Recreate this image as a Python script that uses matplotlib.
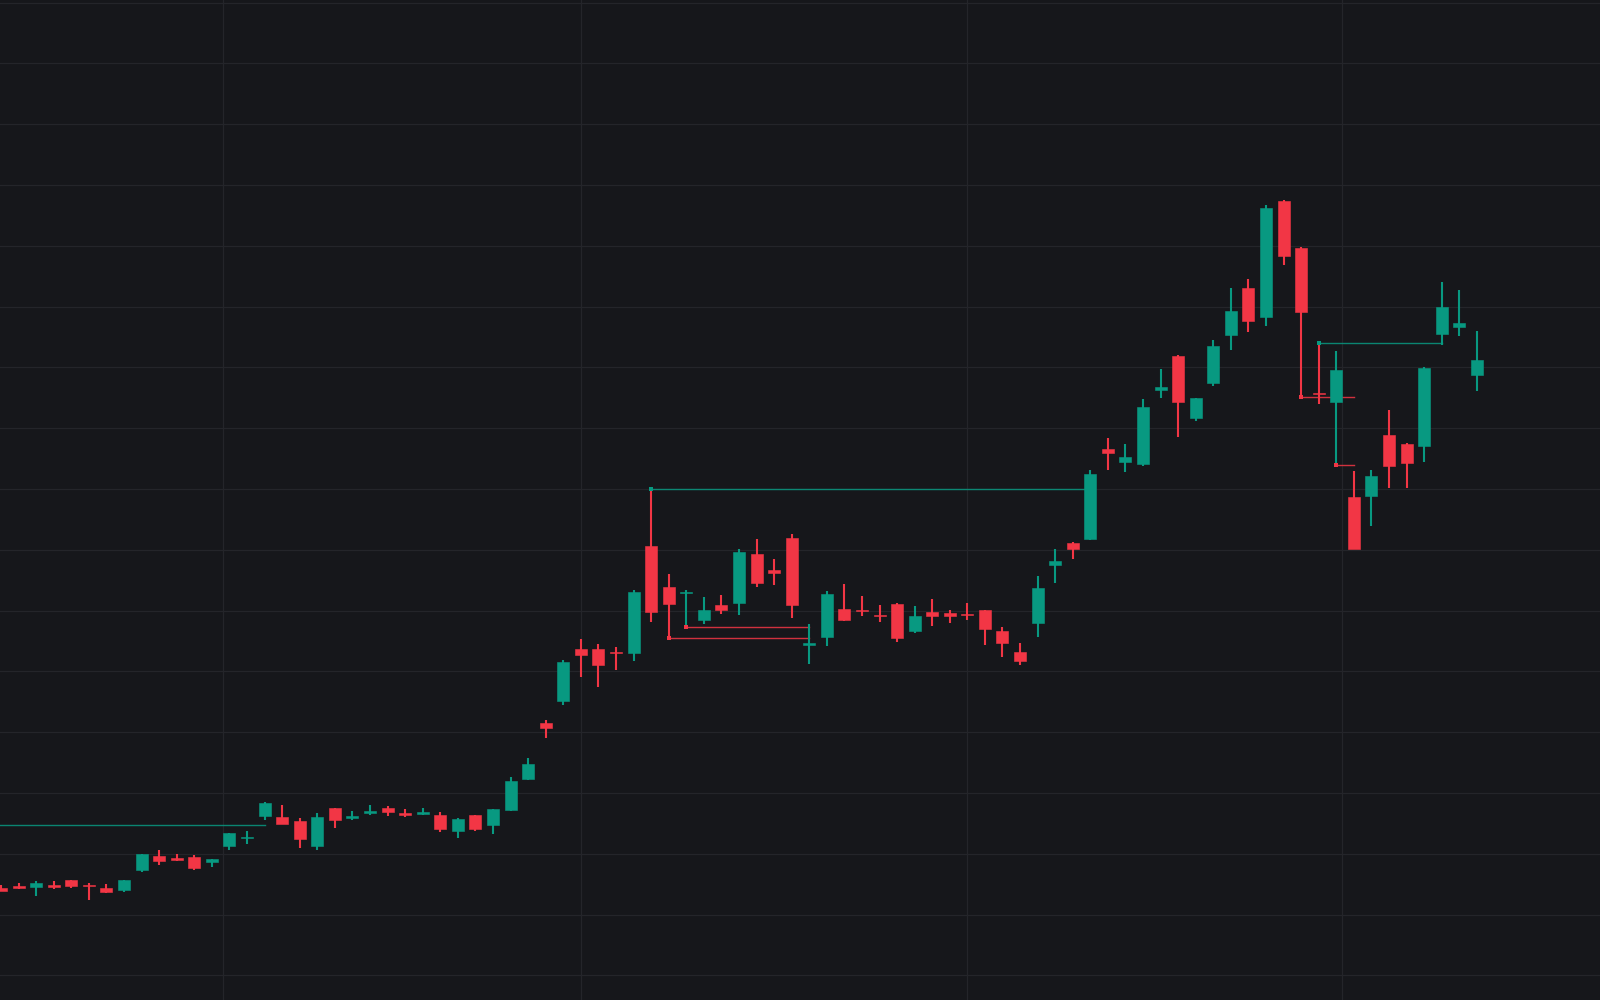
import matplotlib
matplotlib.use("Agg")
import matplotlib.pyplot as plt
import numpy as np

# ---- data (OHLC per bar) ----
opens = [107.20, 107.34, 107.24, 107.43, 107.84, 107.43, 107.18, 107.04, 108.66, 109.84,
         109.65, 109.73, 109.32, 110.63, 111.29, 113.10, 113.02, 112.69, 110.63, 113.76,
         112.94, 113.35, 113.76, 113.35, 113.27, 113.18, 111.87, 113.18, 112.36, 113.59,
         116.14, 120.75, 122.56, 126.86, 126.86, 126.59, 126.53, 135.33, 131.91, 131.46,
         129.22, 130.48, 130.64, 134.67, 133.33, 135.99, 127.19, 127.82, 130.15, 130.07,
         129.63, 130.53, 128.31, 129.88, 129.79, 129.71, 130.04, 128.31, 126.59, 129.00,
         133.74, 135.55, 135.90, 143.31, 142.21, 142.05, 148.16, 150.91, 145.83, 148.71,
         152.66, 156.52, 154.14, 163.68, 159.81, 147.89, 147.17, 139.33, 139.42, 144.41,
         143.72, 143.53, 152.74, 153.31, 149.33]
highs = [107.40, 107.59, 107.75, 107.75, 107.84, 107.59, 107.51, 107.84, 109.98, 110.30,
         109.98, 109.89, 109.56, 111.70, 111.87, 114.25, 114.00, 112.94, 113.35, 113.76,
         113.51, 114.00, 113.92, 113.68, 113.76, 113.43, 112.94, 113.18, 113.68, 116.31,
         117.87, 121.00, 125.93, 127.66, 127.25, 127.00, 131.69, 139.97, 133.00, 131.69,
         131.11, 131.27, 135.06, 135.88, 134.24, 136.32, 128.89, 131.60, 132.18, 131.19,
         130.45, 130.62, 130.37, 130.95, 130.04, 130.62, 130.04, 128.64, 127.33, 132.84,
         135.06, 135.63, 141.55, 144.19, 143.69, 147.39, 149.86, 150.99, 147.48, 152.25,
         156.52, 157.26, 163.35, 163.76, 159.89, 152.00, 151.34, 141.47, 141.55, 146.49,
         143.78, 150.03, 157.02, 156.36, 153.02]
lows = [106.96, 107.10, 106.52, 107.10, 107.18, 106.19, 106.77, 106.88, 108.50, 109.07,
        109.40, 108.66, 108.91, 110.30, 110.80, 112.77, 112.44, 110.47, 110.30, 112.11,
        112.77, 113.18, 113.10, 113.02, 113.18, 111.78, 111.29, 111.87, 111.62, 113.51,
        116.06, 119.51, 122.23, 124.56, 123.71, 125.11, 125.85, 129.05, 127.71, 128.62,
        128.91, 129.74, 129.66, 131.93, 132.10, 129.41, 125.58, 127.11, 129.14, 129.57,
        129.05, 127.41, 128.15, 128.73, 128.97, 129.22, 127.16, 126.18, 125.52, 127.82,
        132.26, 134.24, 135.80, 141.55, 141.39, 141.88, 147.48, 144.27, 145.58, 148.46,
        151.42, 152.90, 153.40, 158.41, 147.53, 146.98, 141.97, 135.02, 136.95, 140.07,
        140.07, 142.21, 151.84, 152.57, 148.05]
closes = [106.96, 107.18, 107.62, 107.26, 107.37, 107.32, 106.85, 107.84, 109.98, 109.40,
          109.48, 108.82, 109.56, 111.70, 111.37, 114.17, 112.44, 111.21, 113.02, 112.77,
          113.10, 113.51, 113.43, 113.18, 113.43, 112.03, 112.85, 112.03, 113.68, 115.98,
          117.38, 120.34, 125.77, 126.34, 125.52, 126.48, 131.52, 129.90, 130.56, 131.55,
          130.04, 130.04, 134.81, 132.29, 133.11, 130.45, 127.27, 131.36, 129.22, 129.96,
          129.55, 127.74, 129.55, 129.55, 129.55, 129.63, 128.45, 127.30, 125.85, 131.85,
          134.07, 135.06, 141.23, 142.93, 142.62, 146.74, 148.38, 147.17, 147.48, 151.75,
          154.63, 153.81, 163.10, 159.15, 154.55, 147.80, 149.75, 135.06, 141.06, 141.88,
          142.13, 149.97, 154.98, 153.64, 150.60]

# pivot lines: start bar, end bar, side ('high' / 'low')
pivot_start = [37, 38, 39, 74, 75, 76]
pivot_end = [62, 46, 46, 77, 82, 77]
pivot_side = ["high", "low", "low", "low", "high", "low"]
# line from a pivot left of the visible range
offscreen_level = 112.34
offscreen_end = 15

# vertical grid (time) positions in bar units
time_grid = [12.65, 33.0, 55.0, 76.3]

# ---- style ----
BG = "#16171b"
GRID = "#24252a"
UP = "#089981"
DOWN = "#f23645"

fig = plt.figure(figsize=(16, 10), dpi=100, facecolor=BG)
ax = fig.add_axes([0, 0, 1, 1])
ax.set_facecolor(BG)
for s in ax.spines.values():
    s.set_visible(False)

x = np.arange(len(opens))
o = np.array(opens); h = np.array(highs); l = np.array(lows); c = np.array(closes)
colors = [UP if cc >= oo else DOWN for oo, cc in zip(o, c)]

# grid
ax.set_yticks(np.arange(100, 181, 5))
ax.set_xticks(time_grid)
ax.grid(True, color=GRID, linewidth=0.9, zorder=0)
ax.tick_params(left=False, bottom=False, labelleft=False, labelbottom=False)

# wicks
ax.vlines(x, l, h, colors=colors, linewidth=1.5, zorder=3)
# bodies
min_h = 0.1
bottoms = np.minimum(o, c)
heights = np.maximum(np.abs(c - o), min_h)
ax.bar(x, heights, bottom=bottoms, width=0.683, color=colors, edgecolor=colors,
       linewidth=0.4, zorder=4)

# pivot lines
for s, e, side in zip(pivot_start, pivot_end, pivot_side):
    level = h[s] if side == "high" else l[s]
    col = UP if side == "high" else DOWN
    ax.plot([s, e], [level, level], color=col, linewidth=1.0, alpha=0.85, zorder=2)
    ax.plot([s], [level], marker="s", markersize=3, color=col, zorder=5,
            markeredgewidth=0)
ax.plot([-2, offscreen_end], [offscreen_level, offscreen_level], color=UP,
        linewidth=1.0, alpha=0.85, zorder=2)

ax.set_xlim(-0.057, 91.007)
ax.set_ylim(97.969, 180.206)

fig.savefig("out.png", dpi=100, facecolor=BG)
